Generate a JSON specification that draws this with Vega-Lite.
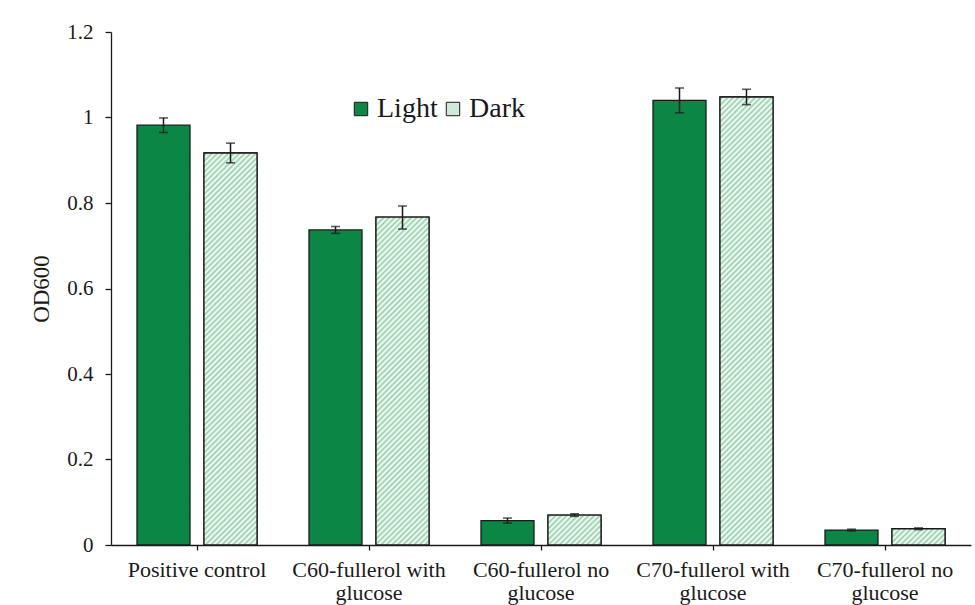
{
  "$schema": "https://vega.github.io/schema/vega-lite/v6.json",
  "width": 860,
  "height": 513,
  "autosize": {"type": "none"},
  "padding": {"left": 111, "top": 32, "right": 4, "bottom": 60},
  "background": "white",
  "params": [
    {"name": "hatch", "value": [
      {"offset":0,"color":"#fff"},{"offset":0.005,"color":"#93d0a9"},{"offset":0.01,"color":"#fff"},{"offset":0.015,"color":"#93d0a9"},{"offset":0.02,"color":"#fff"},{"offset":0.025,"color":"#93d0a9"},{"offset":0.03,"color":"#fff"},{"offset":0.035,"color":"#93d0a9"},{"offset":0.04,"color":"#fff"},{"offset":0.045,"color":"#93d0a9"},
      {"offset":0.05,"color":"#fff"},{"offset":0.055,"color":"#93d0a9"},{"offset":0.06,"color":"#fff"},{"offset":0.065,"color":"#93d0a9"},{"offset":0.07,"color":"#fff"},{"offset":0.075,"color":"#93d0a9"},{"offset":0.08,"color":"#fff"},{"offset":0.085,"color":"#93d0a9"},{"offset":0.09,"color":"#fff"},{"offset":0.095,"color":"#93d0a9"},
      {"offset":0.1,"color":"#fff"},{"offset":0.105,"color":"#93d0a9"},{"offset":0.11,"color":"#fff"},{"offset":0.115,"color":"#93d0a9"},{"offset":0.12,"color":"#fff"},{"offset":0.125,"color":"#93d0a9"},{"offset":0.13,"color":"#fff"},{"offset":0.135,"color":"#93d0a9"},{"offset":0.14,"color":"#fff"},{"offset":0.145,"color":"#93d0a9"},
      {"offset":0.15,"color":"#fff"},{"offset":0.155,"color":"#93d0a9"},{"offset":0.16,"color":"#fff"},{"offset":0.165,"color":"#93d0a9"},{"offset":0.17,"color":"#fff"},{"offset":0.175,"color":"#93d0a9"},{"offset":0.18,"color":"#fff"},{"offset":0.185,"color":"#93d0a9"},{"offset":0.19,"color":"#fff"},{"offset":0.195,"color":"#93d0a9"},
      {"offset":0.2,"color":"#fff"},{"offset":0.205,"color":"#93d0a9"},{"offset":0.21,"color":"#fff"},{"offset":0.215,"color":"#93d0a9"},{"offset":0.22,"color":"#fff"},{"offset":0.225,"color":"#93d0a9"},{"offset":0.23,"color":"#fff"},{"offset":0.235,"color":"#93d0a9"},{"offset":0.24,"color":"#fff"},{"offset":0.245,"color":"#93d0a9"},
      {"offset":0.25,"color":"#fff"},{"offset":0.255,"color":"#93d0a9"},{"offset":0.26,"color":"#fff"},{"offset":0.265,"color":"#93d0a9"},{"offset":0.27,"color":"#fff"},{"offset":0.275,"color":"#93d0a9"},{"offset":0.28,"color":"#fff"},{"offset":0.285,"color":"#93d0a9"},{"offset":0.29,"color":"#fff"},{"offset":0.295,"color":"#93d0a9"},
      {"offset":0.3,"color":"#fff"},{"offset":0.305,"color":"#93d0a9"},{"offset":0.31,"color":"#fff"},{"offset":0.315,"color":"#93d0a9"},{"offset":0.32,"color":"#fff"},{"offset":0.325,"color":"#93d0a9"},{"offset":0.33,"color":"#fff"},{"offset":0.335,"color":"#93d0a9"},{"offset":0.34,"color":"#fff"},{"offset":0.345,"color":"#93d0a9"},
      {"offset":0.35,"color":"#fff"},{"offset":0.355,"color":"#93d0a9"},{"offset":0.36,"color":"#fff"},{"offset":0.365,"color":"#93d0a9"},{"offset":0.37,"color":"#fff"},{"offset":0.375,"color":"#93d0a9"},{"offset":0.38,"color":"#fff"},{"offset":0.385,"color":"#93d0a9"},{"offset":0.39,"color":"#fff"},{"offset":0.395,"color":"#93d0a9"},
      {"offset":0.4,"color":"#fff"},{"offset":0.405,"color":"#93d0a9"},{"offset":0.41,"color":"#fff"},{"offset":0.415,"color":"#93d0a9"},{"offset":0.42,"color":"#fff"},{"offset":0.425,"color":"#93d0a9"},{"offset":0.43,"color":"#fff"},{"offset":0.435,"color":"#93d0a9"},{"offset":0.44,"color":"#fff"},{"offset":0.445,"color":"#93d0a9"},
      {"offset":0.45,"color":"#fff"},{"offset":0.455,"color":"#93d0a9"},{"offset":0.46,"color":"#fff"},{"offset":0.465,"color":"#93d0a9"},{"offset":0.47,"color":"#fff"},{"offset":0.475,"color":"#93d0a9"},{"offset":0.48,"color":"#fff"},{"offset":0.485,"color":"#93d0a9"},{"offset":0.49,"color":"#fff"},{"offset":0.495,"color":"#93d0a9"},
      {"offset":0.5,"color":"#fff"},{"offset":0.505,"color":"#93d0a9"},{"offset":0.51,"color":"#fff"},{"offset":0.515,"color":"#93d0a9"},{"offset":0.52,"color":"#fff"},{"offset":0.525,"color":"#93d0a9"},{"offset":0.53,"color":"#fff"},{"offset":0.535,"color":"#93d0a9"},{"offset":0.54,"color":"#fff"},{"offset":0.545,"color":"#93d0a9"},
      {"offset":0.55,"color":"#fff"},{"offset":0.555,"color":"#93d0a9"},{"offset":0.56,"color":"#fff"},{"offset":0.565,"color":"#93d0a9"},{"offset":0.57,"color":"#fff"},{"offset":0.575,"color":"#93d0a9"},{"offset":0.58,"color":"#fff"},{"offset":0.585,"color":"#93d0a9"},{"offset":0.59,"color":"#fff"},{"offset":0.595,"color":"#93d0a9"},
      {"offset":0.6,"color":"#fff"},{"offset":0.605,"color":"#93d0a9"},{"offset":0.61,"color":"#fff"},{"offset":0.615,"color":"#93d0a9"},{"offset":0.62,"color":"#fff"},{"offset":0.625,"color":"#93d0a9"},{"offset":0.63,"color":"#fff"},{"offset":0.635,"color":"#93d0a9"},{"offset":0.64,"color":"#fff"},{"offset":0.645,"color":"#93d0a9"},
      {"offset":0.65,"color":"#fff"},{"offset":0.655,"color":"#93d0a9"},{"offset":0.66,"color":"#fff"},{"offset":0.665,"color":"#93d0a9"},{"offset":0.67,"color":"#fff"},{"offset":0.675,"color":"#93d0a9"},{"offset":0.68,"color":"#fff"},{"offset":0.685,"color":"#93d0a9"},{"offset":0.69,"color":"#fff"},{"offset":0.695,"color":"#93d0a9"},
      {"offset":0.7,"color":"#fff"},{"offset":0.705,"color":"#93d0a9"},{"offset":0.71,"color":"#fff"},{"offset":0.715,"color":"#93d0a9"},{"offset":0.72,"color":"#fff"},{"offset":0.725,"color":"#93d0a9"},{"offset":0.73,"color":"#fff"},{"offset":0.735,"color":"#93d0a9"},{"offset":0.74,"color":"#fff"},{"offset":0.745,"color":"#93d0a9"},
      {"offset":0.75,"color":"#fff"},{"offset":0.755,"color":"#93d0a9"},{"offset":0.76,"color":"#fff"},{"offset":0.765,"color":"#93d0a9"},{"offset":0.77,"color":"#fff"},{"offset":0.775,"color":"#93d0a9"},{"offset":0.78,"color":"#fff"},{"offset":0.785,"color":"#93d0a9"},{"offset":0.79,"color":"#fff"},{"offset":0.795,"color":"#93d0a9"},
      {"offset":0.8,"color":"#fff"},{"offset":0.805,"color":"#93d0a9"},{"offset":0.81,"color":"#fff"},{"offset":0.815,"color":"#93d0a9"},{"offset":0.82,"color":"#fff"},{"offset":0.825,"color":"#93d0a9"},{"offset":0.83,"color":"#fff"},{"offset":0.835,"color":"#93d0a9"},{"offset":0.84,"color":"#fff"},{"offset":0.845,"color":"#93d0a9"},
      {"offset":0.85,"color":"#fff"},{"offset":0.855,"color":"#93d0a9"},{"offset":0.86,"color":"#fff"},{"offset":0.865,"color":"#93d0a9"},{"offset":0.87,"color":"#fff"},{"offset":0.875,"color":"#93d0a9"},{"offset":0.88,"color":"#fff"},{"offset":0.885,"color":"#93d0a9"},{"offset":0.89,"color":"#fff"},{"offset":0.895,"color":"#93d0a9"},
      {"offset":0.9,"color":"#fff"},{"offset":0.905,"color":"#93d0a9"},{"offset":0.91,"color":"#fff"},{"offset":0.915,"color":"#93d0a9"},{"offset":0.92,"color":"#fff"},{"offset":0.925,"color":"#93d0a9"},{"offset":0.93,"color":"#fff"},{"offset":0.935,"color":"#93d0a9"},{"offset":0.94,"color":"#fff"},{"offset":0.945,"color":"#93d0a9"},
      {"offset":0.95,"color":"#fff"},{"offset":0.955,"color":"#93d0a9"},{"offset":0.96,"color":"#fff"},{"offset":0.965,"color":"#93d0a9"},{"offset":0.97,"color":"#fff"},{"offset":0.975,"color":"#93d0a9"},{"offset":0.98,"color":"#fff"},{"offset":0.985,"color":"#93d0a9"},{"offset":0.99,"color":"#fff"},{"offset":0.995,"color":"#93d0a9"},
      {"offset":1,"color":"#fff"}
    ]}
  ],
  "data": {"values": [
    {"cat": "Positive control", "series": "Light", "od": 0.982, "lo": 0.965, "hi": 0.999},
    {"cat": "Positive control", "series": "Dark", "od": 0.917, "lo": 0.894, "hi": 0.940},
    {"cat": "C60-fullerol with glucose", "series": "Light", "od": 0.737, "lo": 0.729, "hi": 0.745},
    {"cat": "C60-fullerol with glucose", "series": "Dark", "od": 0.767, "lo": 0.739, "hi": 0.793},
    {"cat": "C60-fullerol no glucose", "series": "Light", "od": 0.057, "lo": 0.051, "hi": 0.063},
    {"cat": "C60-fullerol no glucose", "series": "Dark", "od": 0.070, "lo": 0.067, "hi": 0.073},
    {"cat": "C70-fullerol with glucose", "series": "Light", "od": 1.040, "lo": 1.011, "hi": 1.069},
    {"cat": "C70-fullerol with glucose", "series": "Dark", "od": 1.048, "lo": 1.030, "hi": 1.066},
    {"cat": "C70-fullerol no glucose", "series": "Light", "od": 0.035, "lo": 0.033, "hi": 0.037},
    {"cat": "C70-fullerol no glucose", "series": "Dark", "od": 0.038, "lo": 0.036, "hi": 0.040}
  ]},
  "encoding": {
    "x": {
      "field": "cat", "type": "nominal",
      "sort": ["Positive control", "C60-fullerol with glucose", "C60-fullerol no glucose", "C70-fullerol with glucose", "C70-fullerol no glucose"],
      "scale": {"paddingInner": 0, "paddingOuter": 0},
      "axis": {
        "title": null, "labelAngle": 0, "tickSize": 5, "labelPadding": 9,
        "labelFont": "Liberation Serif", "labelFontSize": 22, "labelColor": "#1a1a1a",
        "labelLineHeight": 23, "labelLimit": 0,
        "domainColor": "#1a1a1a", "domainWidth": 1.3, "tickColor": "#1a1a1a", "tickWidth": 1.3,
        "labelExpr": "indexof(datum.label, ' glucose') > 0 ? [substring(datum.label, 0, indexof(datum.label, ' glucose')), 'glucose'] : datum.label"
      }
    },
    "xOffset": {
      "field": "series", "type": "nominal",
      "sort": ["Light", "Dark"],
      "scale": {"paddingInner": 0.209, "paddingOuter": 0.388}
    }
  },
  "layer": [
    {
      "mark": {"type": "bar", "stroke": "#1a1a1a", "strokeWidth": 1.3},
      "encoding": {
        "y": {
          "field": "od", "type": "quantitative",
          "scale": {"domain": [0, 1.2], "nice": false},
          "axis": {
            "title": "OD600", "values": [0, 0.2, 0.4, 0.6, 0.8, 1, 1.2], "format": ".1~f",
            "grid": false, "tickSize": 6, "labelPadding": 12,
            "labelFont": "Liberation Serif", "labelFontSize": 21, "labelColor": "#1a1a1a",
            "titleFont": "Liberation Serif", "titleFontSize": 23, "titleFontWeight": "normal", "titleColor": "#1a1a1a", "titlePadding": 13,
            "domainColor": "#1a1a1a", "domainWidth": 1.3, "tickColor": "#1a1a1a", "tickWidth": 1.3
          }
        },
        "fill": {
          "field": "series", "type": "nominal",
          "scale": {"domain": ["Light", "Dark"], "range": ["#0b8645", "#cfeadb"]},
          "legend": {
            "title": null, "orient": "none", "legendX": 236, "legendY": 63, "direction": "horizontal",
            "symbolType": "square", "symbolSize": 180, "symbolStrokeColor": "#1a1a1a", "symbolStrokeWidth": 1,
            "labelFont": "Liberation Serif", "labelFontSize": 28, "labelColor": "#1a1a1a",
            "labelOffset": 2, "columnPadding": 1, "padding": 0,
            "encode": {"symbols": {"update": {
              "fill": {"signal": "datum.value === 'Dark' ? {gradient: 'linear', x1: 0, y1: 0, x2: 20.5, y2: 20.5, stops: hatch} : '#0b8645'"},
              "stroke": {"value": "#1a1a1a"}, "strokeWidth": {"value": 1}
            }}}
          }
        }
      }
    },
    {
      "transform": [{"filter": "datum.series === 'Dark'"}],
      "mark": {"type": "bar", "stroke": "#1a1a1a", "strokeWidth": 1.3},
      "encoding": {
        "y": {"field": "od", "type": "quantitative"},
        "fill": {"value": {"expr": "{gradient: 'linear', x1: 0, y1: 0, x2: 550 * bandwidth('xOffset') / (pow(bandwidth('xOffset'), 2) + pow(scale('y', 0) - scale('y', datum.od), 2)), y2: 550 * (scale('y', 0) - scale('y', datum.od)) / (pow(bandwidth('xOffset'), 2) + pow(scale('y', 0) - scale('y', datum.od), 2)), stops: hatch}"}}
      }
    },
    {
      "mark": {"type": "rule", "color": "#1a1a1a", "strokeWidth": 1.5},
      "encoding": {
        "y": {"field": "lo", "type": "quantitative"},
        "y2": {"field": "hi"}
      }
    },
    {
      "mark": {"type": "tick", "color": "#1a1a1a", "thickness": 1.6, "size": 9},
      "encoding": {"y": {"field": "lo", "type": "quantitative"}}
    },
    {
      "mark": {"type": "tick", "color": "#1a1a1a", "thickness": 1.6, "size": 9},
      "encoding": {"y": {"field": "hi", "type": "quantitative"}}
    }
  ],
  "config": {"view": {"stroke": null}}
}
